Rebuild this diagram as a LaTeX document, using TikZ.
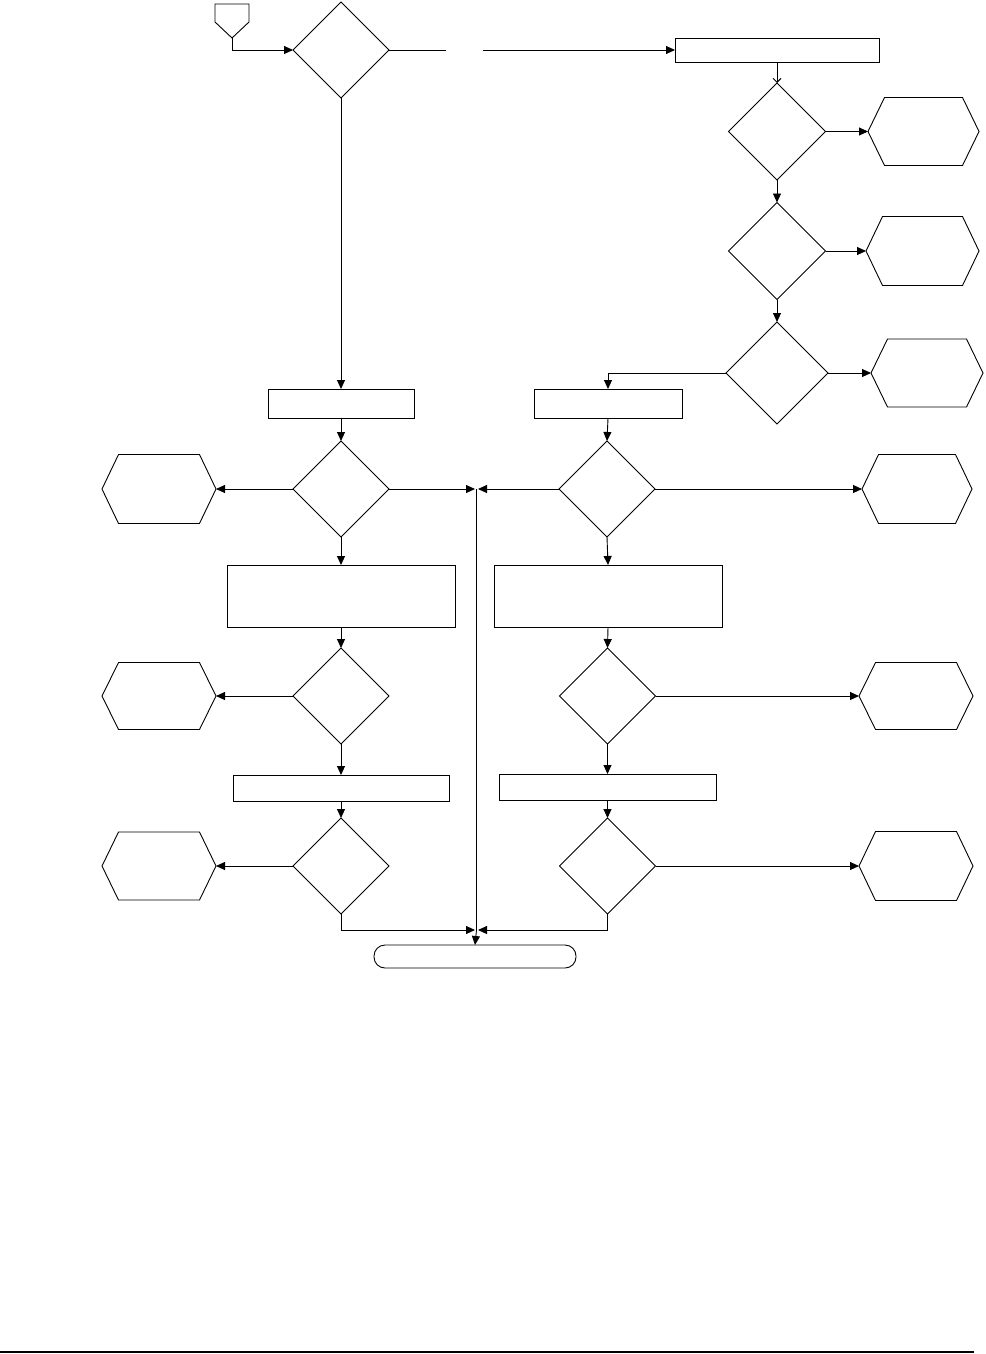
\documentclass[tikz,border=0pt]{standalone}
\usetikzlibrary{shapes.geometric,arrows.meta}
\begin{document}
\begin{tikzpicture}[x=1pt,y=-1pt,
  every node/.style={inner sep=0pt,outer sep=0pt},
  lw/.style={line width=0.9pt},
  dec/.style={diamond,draw,lw,minimum width=#1,minimum height=#1},
  dec/.default=96pt,
  proc/.style={rectangle,draw,lw},
  hexa/.style={rectangle,draw=none},
  arr/.style={lw,-{Triangle[length=9pt,width=8pt]}},
  ln/.style={lw}]
\useasboundingbox (0,0) rectangle (985,1354);
% nodes
\node[hexa,minimum width=34pt,minimum height=34pt] (start) at (232,21) {};
\node[dec] (d1) at (341,50) {};
\node[proc,minimum width=204pt,minimum height=24pt] (b0) at (777,50) {};
\node[dec=97pt] (d2) at (777,131.5) {};
\node[dec=97pt] (d3) at (777,251) {};
\node[dec=102pt] (d4) at (777,373) {};
\node[hexa,minimum width=111pt,minimum height=68pt] (h1) at (923.5,131.5) {};
\node[hexa,minimum width=113pt,minimum height=69pt] (h2) at (922.5,251) {};
\node[hexa,minimum width=112pt,minimum height=68pt] (h3) at (927,373) {};
\node[proc,minimum width=146pt,minimum height=29pt] (bL1) at (341,403.5) {};
\node[proc,minimum width=148pt,minimum height=29pt] (bR1) at (608,403.5) {};
\node[dec] (dL1) at (341,489) {};
\node[dec] (dR1) at (607,489) {};
\node[hexa,minimum width=114pt,minimum height=69pt] (hL1) at (159,489) {};
\node[hexa,minimum width=110pt,minimum height=69pt] (hR1) at (917,489) {};
\node[proc,minimum width=228pt,minimum height=62pt] (bL2) at (341,596) {};
\node[proc,minimum width=228pt,minimum height=62pt] (bR2) at (608,596) {};
\node[dec=96pt] (dL2) at (341,696) {};
\node[dec=96pt] (dR2) at (607.5,696) {};
\node[hexa,minimum width=114pt,minimum height=67pt] (hL2) at (159,696) {};
\node[hexa,minimum width=114pt,minimum height=67pt] (hR2) at (916,696) {};
\node[proc,minimum width=216pt,minimum height=26pt] (bL3) at (341,788) {};
\node[proc,minimum width=217pt,minimum height=26pt] (bR3) at (607.5,787) {};
\node[dec=96pt] (dL3) at (341,866) {};
\node[dec=96pt] (dR3) at (607.5,866) {};
\node[hexa,minimum width=114pt,minimum height=68pt] (hL3) at (159,866) {};
\node[hexa,minimum width=114pt,minimum height=69pt] (hR3) at (916,866) {};
\node[proc,rounded corners=11pt,minimum width=202pt,minimum height=23pt] (term) at (475,956.5) {};
% hexagons
\foreach \h in {h1,h2,h3,hL1,hR1,hL2,hR2,hL3,hR3}{
  \draw[lw] (\h.west) -- ([xshift=16.5pt]\h.north west) -- ([xshift=-16.5pt]\h.north east)
    -- (\h.east) -- ([xshift=-16.5pt]\h.south east) -- ([xshift=16.5pt]\h.south west) -- cycle;
}
% off-page start symbol
\draw[lw] (start.north west) -- (start.north east) -- ([yshift=16pt]start.south east)
  -- (start.south) -- ([yshift=16pt]start.south west) -- cycle;
% coordinates
\coordinate (g1) at (446,50);
\coordinate (g2) at (483,50);
\coordinate (J) at (476.5,489);
\coordinate (J2) at (476.5,930);
\coordinate (f1) at (0,1352);
\coordinate (f2) at (974,1352);
% connectors
\draw[arr] (start.south) |- (d1.west);
\draw[ln] (d1.east) -- (g1);
\draw[arr] (g2) -- (b0.west);
\draw[lw,-{Straight Barb[length=4pt,width=8pt]}] (b0.south) -- (d2.north);
\draw[arr] (d2.east) -- (h1.west);
\draw[arr] (d2.south) -- (d3.north);
\draw[arr] (d3.east) -- (h2.west);
\draw[arr] (d3.south) -- (d4.north);
\draw[arr] (d4.east) -- (h3.west);
\draw[arr] (d4.west) -| (bR1.north);
\draw[arr] (d1.south) -- (bL1.north);
\draw[arr] (bL1.south) -- (dL1.north);
\draw[arr] (bR1.south) -- (dR1.north);
\draw[arr] (dL1.west) -- (hL1.east);
\draw[arr] (dR1.east) -- (hR1.west);
\draw[arr,shorten >=1.5pt] (dL1.east) -- (J);
\draw[arr,shorten >=1.5pt] (dR1.west) -- (J);
\draw[arr] (dL1.south) -- (bL2.north);
\draw[arr] (dR1.south) -- (bR2.north);
\draw[arr] (bL2.south) -- (dL2.north);
\draw[arr] (bR2.south) -- (dR2.north);
\draw[arr] (dL2.west) -- (hL2.east);
\draw[arr] (dR2.east) -- (hR2.west);
\draw[arr] (dL2.south) -- (bL3.north);
\draw[arr] (dR2.south) -- (bR3.north);
\draw[arr] (bL3.south) -- (dL3.north);
\draw[arr] (bR3.south) -- (dR3.north);
\draw[arr] (dL3.west) -- (hL3.east);
\draw[arr] (dR3.east) -- (hR3.west);
\draw[arr,shorten >=1.5pt] (dL3.south) |- (J2);
\draw[arr,shorten >=1.5pt] (dR3.south) |- (J2);
\draw[ln] (J) -- (J2);
\draw[arr] (J2) -- (term.north);
% footer rule
\draw[line width=1.5pt] (f1) -- (f2);
\end{tikzpicture}
\end{document}
